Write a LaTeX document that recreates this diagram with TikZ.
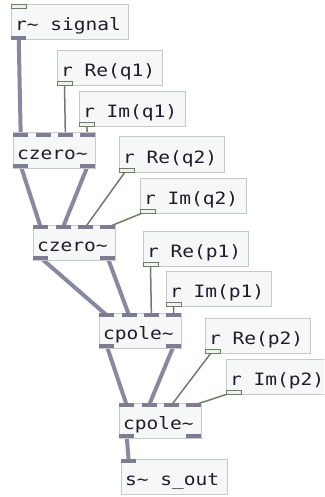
\documentclass[tikz,border=0pt]{standalone}
\usepackage{fontspec}
\newfontfamily\pdfont[FakeStretch=1.15]{DejaVu Sans Mono}
% one monospaced character cell as an interword space
\newcommand\pdsp{\hspace*{11.77pt}}
\usetikzlibrary{calc}
\pgfdeclarelayer{wires}
\pgfsetlayers{wires,main}

\definecolor{boxfill}{HTML}{F6F7F7}
\definecolor{boxline}{HTML}{C8C9C9}
\definecolor{sigport}{HTML}{7E7B93}
\definecolor{sigwire}{HTML}{8A889E}
\definecolor{ctlline}{HTML}{6E7D69}
\definecolor{ctlfill}{HTML}{EEF1EC}
\definecolor{txt}{HTML}{1E1E2C}

% obj=<text width>; the box is 8pt wider than its text
\tikzset{
  obj/.style={draw=boxline, fill=boxfill, line width=1pt, anchor=north west,
    outer sep=0pt, inner xsep=4pt, inner ysep=0pt, minimum height=35pt,
    text width=#1, text height=17pt, text depth=0pt,
    font=\pdfont\fontsize{17}{17}\selectfont, text=txt},
  sigin/.style={fill=sigport, draw=none, inner sep=0pt, minimum width=15pt,
    minimum height=4pt, anchor=north west},
  sigout/.style={sigin, anchor=south west},
  ctlin/.style={fill=ctlfill, draw=ctlline, line width=1pt, inner sep=0pt,
    minimum width=15pt, minimum height=4pt, anchor=north west, outer sep=0pt},
  ctlout/.style={ctlin, anchor=south west},
  sigwire/.style={draw=sigwire, line width=4pt},
  ctlwire/.style={draw=ctlline, line width=1.5pt}
}

\begin{document}
\begin{tikzpicture}[x=1pt, y=-1pt]
\useasboundingbox (0,0) rectangle (324,497);
\clip (0,0) rectangle (324,497);

% object boxes
\node[obj=109pt] (sig)  at (11,5)    {r\textasciitilde\pdsp signal};
\node[obj=97pt]  (req1) at (57,51)   {r\pdsp Re(q1)};
\node[obj=98pt]  (imq1) at (79,92)   {r\pdsp Im(q1)};
\node[obj=74pt]  (cz1)  at (13,133)  {czero\textasciitilde};
\node[obj=97pt]  (req2) at (119,137) {r\pdsp Re(q2)};
\node[obj=98pt]  (imq2) at (140,178) {r\pdsp Im(q2)};
\node[obj=74pt]  (cz2)  at (33,225)  {czero\textasciitilde};
\node[obj=97pt]  (rep1) at (143,231) {r\pdsp Re(p1)};
\node[obj=97pt]  (imp1) at (166,271) {r\pdsp Im(p1)};
\node[obj=74pt]  (cp1)  at (99,313)  {cpole\textasciitilde};
\node[obj=97pt]  (rep2) at (205,318) {r\pdsp Re(p2)};
\node[obj=97pt]  (imp2) at (226,359) {r\pdsp Im(p2)};
\node[obj=74pt]  (cp2)  at (119,403) {cpole\textasciitilde};
\node[obj=98pt]  (sout) at (121,459) {s\textasciitilde\pdsp s\_out};

% receive objects: inlet/outlets
\node[ctlin]  (sig-i)  at (sig.north west) {};
\node[sigout] (sig-o)  at (sig.south west) {};
\node[ctlout] (req1-o) at (req1.south west) {};
\node[ctlout] (imq1-o) at (imq1.south west) {};
\node[ctlout] (req2-o) at (req2.south west) {};
\node[ctlout] (imq2-o) at (imq2.south west) {};
\node[ctlout] (rep1-o) at (rep1.south west) {};
\node[ctlout] (imp1-o) at (imp1.south west) {};
\node[ctlout] (rep2-o) at (rep2.south west) {};
\node[ctlout] (imp2-o) at (imp2.south west) {};
\node[sigin]  (sout-i) at (sout.north west) {};

% filter objects: four inlets, two outlets each
\foreach \f in {cz1,cz2,cp1,cp2}{
  \node[sigin] (\f-i1) at (\f.north west) {};
  \node[sigin] (\f-i2) at ($(\f.north west)+(22.33,0)$) {};
  \node[sigin] (\f-i3) at ($(\f.north west)+(44.67,0)$) {};
  \node[sigin] (\f-i4) at ($(\f.north west)+(67,0)$) {};
  \node[sigout] (\f-o1) at (\f.south west) {};
  \node[sigout] (\f-o2) at ($(\f.south west)+(67,0)$) {};
}

% connections, drawn beneath the boxes
\begin{pgfonlayer}{wires}
  \draw[sigwire] (sig-o.center) -- (cz1-i1.center);
  \draw[sigwire] (cz1-o1.center) -- (cz2-i1.center);
  \draw[sigwire] (cz1-o2.center) -- (cz2-i2.center);
  \draw[sigwire] (cz2-o1.center) -- (cp1-i1.center);
  \draw[sigwire] (cz2-o2.center) -- (cp1-i2.center);
  \draw[sigwire] (cp1-o1.center) -- (cp2-i1.center);
  \draw[sigwire] (cp1-o2.center) -- (cp2-i2.center);
  \draw[sigwire] (cp2-o1.center) -- (sout-i.center);

  \draw[ctlwire] (req1-o.center) -- (cz1-i3.center);
  \draw[ctlwire] (imq1-o.center) -- (cz1-i4.center);
  \draw[ctlwire] (req2-o.center) -- (cz2-i3.center);
  \draw[ctlwire] (imq2-o.center) -- (cz2-i4.center);
  \draw[ctlwire] (rep1-o.center) -- (cp1-i3.center);
  \draw[ctlwire] (imp1-o.center) -- (cp1-i4.center);
  \draw[ctlwire] (rep2-o.center) -- (cp2-i3.center);
  \draw[ctlwire] (imp2-o.center) -- (cp2-i4.center);
\end{pgfonlayer}
\end{tikzpicture}
\end{document}
